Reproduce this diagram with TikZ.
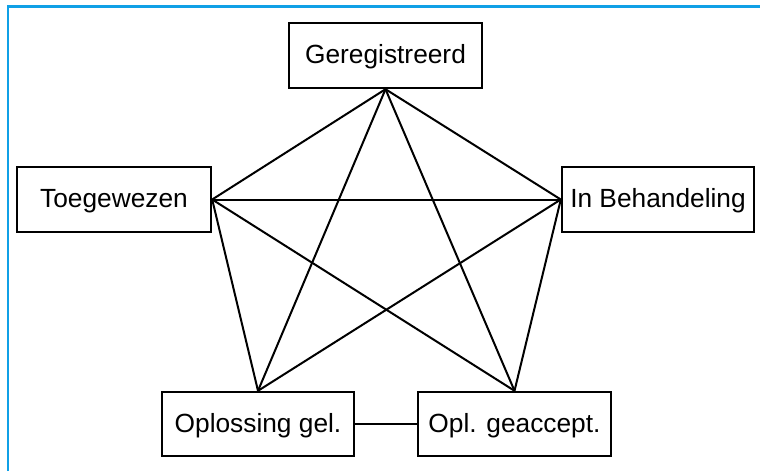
\documentclass[tikz,border=0pt]{standalone}
\usepackage{fontspec}
\setmainfont{Liberation Sans}
\definecolor{frameblue}{RGB}{16,160,230}
\begin{document}
\begin{tikzpicture}[x=1pt,y=-1pt,
  statebox/.style={draw=black,line width=2.4pt,minimum width=193pt,minimum height=65pt,inner sep=0pt,text height=20pt,text depth=3.5pt,font=\fontsize{26.3}{31}\selectfont},
  link/.style={draw=black,line width=2pt}]
\useasboundingbox (0,0) rectangle (760,471);
\draw[frameblue,line width=2.4pt] (8,471) -- (8,6.5) -- (760,6.5);
\node[statebox,minimum width=193pt] (g) at (385.5,55.5) {Geregistreerd};
\node[statebox,minimum width=194pt] (t) at (114,199.5) {Toegewezen};
\node[statebox,minimum width=192pt] (b) at (658,199.5) {In Behandeling};
\node[statebox,minimum width=192pt,minimum height=64pt] (o) at (258,424) {Oplossing gel.};
\node[statebox,minimum width=193pt,minimum height=64pt] (a) at (514.5,424) {Opl. geaccept.};
\draw[link] (g.south) -- (t.east);
\draw[link] (g.south) -- (b.west);
\draw[link] (g.south) -- (o.north);
\draw[link] (g.south) -- (a.north);
\draw[link] (t.east) -- (b.west);
\draw[link] (t.east) -- (o.north);
\draw[link] (t.east) -- (a.north);
\draw[link] (b.west) -- (o.north);
\draw[link] (b.west) -- (a.north);
\draw[link] (o.east) -- (a.west);
\end{tikzpicture}
\end{document}
